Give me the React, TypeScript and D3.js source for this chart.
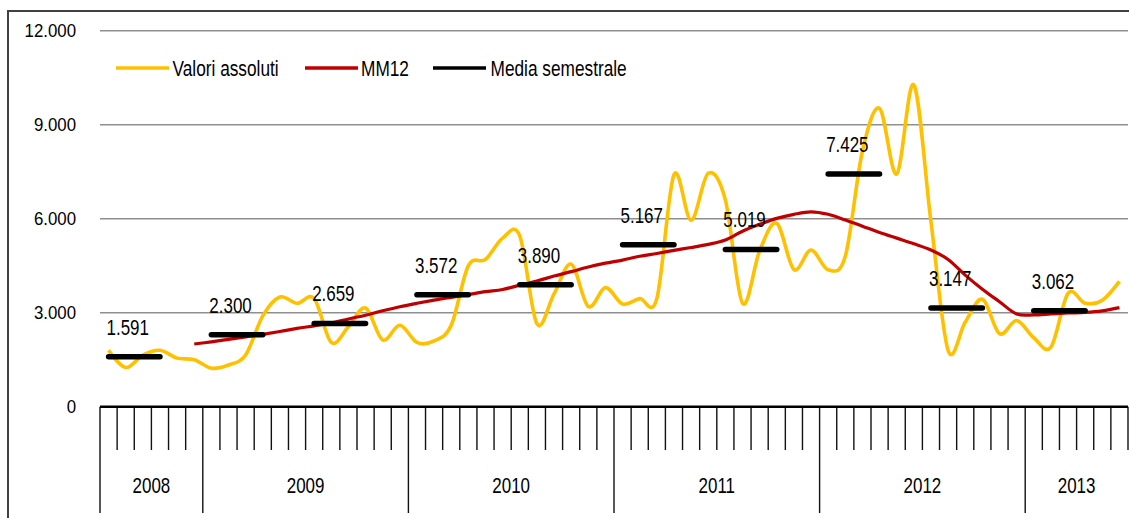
import React from "react";
import * as d3 from "d3";

// ---- data ----
const years = ["2008", "2009", "2010", "2011", "2012", "2013"];
const monthsPerYear = [6, 12, 12, 12, 12, 6];

const valoriAssoluti = [
  1800, 1250, 1650, 1800, 1550, 1500,
  1230, 1330, 1650, 2900, 3500, 3300,
  3450, 2050, 2550, 3150, 2130, 2600,
  2050, 2100, 2600, 4500, 4700, 5380,
  5450, 2650, 3600, 4550, 3200, 3800,
  3280, 3450, 3450, 7400, 5950, 7450,
  6600, 3300, 4980, 5850, 4380, 5000,
  4370, 4800, 8160, 9520, 7430, 10270,
  5900, 1800, 2700, 3430, 2330, 2750,
  2200, 1900, 3620, 3300, 3400, 4000,
];

const mm12: (number | null)[] = [
  null, null, null, null, null, 2000,
  2070, 2150, 2230, 2310, 2400, 2500,
  2580, 2670, 2800, 2920, 3060, 3190,
  3300, 3400, 3490, 3580, 3670, 3740,
  3880, 4010, 4170, 4310, 4460, 4580,
  4680, 4800, 4890, 4990, 5080, 5180,
  5320, 5600, 5820, 6010, 6140, 6220,
  6140, 5960, 5760, 5560, 5380, 5200,
  5000, 4700, 4200, 3750, 3350, 2960,
  2930, 2960, 2990, 3010, 3060, 3160,
];

const mediaSemestrale = [1591, 2300, 2659, 3572, 3890, 5167, 5019, 7425, 3147, 3062];

const yTicks = [0, 3000, 6000, 9000, 12000];

const legendItems = ["Valori assoluti", "MM12", "Media semestrale"];

// ---- layout ----
const W = 1129;
const H = 518;
const left = 100;
const right = 1128;
const y0 = 406.7;
const yTopPx = 30.7;
const FONT = "'Liberation Sans', Arial, sans-serif";
const YELLOW = "#FFC000";
const RED = "#C00000";

const itLocale = d3.formatLocale({
  decimal: ",",
  thousands: ".",
  grouping: [3],
  currency: ["€", ""],
});
const fmt = itLocale.format(",.0f");

export default function App() {
  const nMonths = d3.sum(monthsPerYear);
  const idx = d3.range(nMonths);
  const x = d3.scaleBand<number>().domain(idx).range([left, right]).padding(0);
  const cx = (i: number) => (x(i) as number) + x.bandwidth() / 2;
  const y = d3.scaleLinear().domain([0, 12000]).range([y0, yTopPx]);

  const smooth = d3.curveCardinal.tension(0);

  const yellowPath = d3
    .line<number>()
    .x((_, i) => cx(i))
    .y((d) => y(d))
    .curve(smooth)(valoriAssoluti) as string;

  const redPath = d3
    .line<number | null>()
    .defined((d) => d != null)
    .x((_, i) => cx(i))
    .y((d) => y(d as number))
    .curve(smooth)(mm12) as string;

  const yearStarts: number[] = [];
  let acc = 0;
  monthsPerYear.forEach((m) => {
    yearStarts.push(acc);
    acc += m;
  });

  const label = (
    txt: string,
    tx: number,
    ty: number,
    size: number,
    sx: number,
    anchor: "start" | "middle" | "end" = "start",
    key?: string
  ) => (
    <text
      key={key}
      transform={`translate(${tx},${ty}) scale(${sx},1)`}
      fontSize={size}
      fontFamily={FONT}
      textAnchor={anchor}
      fill="#000"
    >
      {txt}
    </text>
  );

  return (
    <svg
      width={W}
      height={H}
      style={{ position: "absolute", left: 0, top: 0, background: "#fff" }}
    >
      <rect x={0} y={0} width={W} height={H} fill="#fff" />
      <rect x={8} y={11} width={1200} height={600} fill="none" stroke="#404040" strokeWidth={2} />

      {yTicks
        .filter((t) => t > 0)
        .map((t) => (
          <line key={t} x1={left} x2={right} y1={y(t)} y2={y(t)} stroke="#8f8f8f" strokeWidth={1.5} />
        ))}

      {yTicks.map((t) => label(fmt(t), 76, y(t) + 6.5, 18.5, 0.91, "end", "yl" + t))}

      {d3.range(nMonths + 1).map((i) => {
        const xx = i < nMonths ? (x(i) as number) : right;
        const isYear = i < nMonths && yearStarts.includes(i);
        return (
          <line
            key={"t" + i}
            x1={xx}
            x2={xx}
            y1={y0}
            y2={isYear ? 513 : 450}
            stroke="#111"
            strokeWidth={1.4}
          />
        );
      })}
      <line x1={left} x2={right} y1={y0} y2={y0} stroke="#000" strokeWidth={2.5} />

      {years.map((yr, k) => {
        const s = yearStarts[k];
        const e = s + monthsPerYear[k];
        const xs = x(s) as number;
        const xe = e < nMonths ? (x(e) as number) : right;
        return label(yr, (xs + xe) / 2, 493, 22, 0.77, "middle", "y" + yr);
      })}

      <path d={yellowPath} fill="none" stroke={YELLOW} strokeWidth={3.6} strokeLinejoin="round" />
      <path d={redPath} fill="none" stroke={RED} strokeWidth={3.2} strokeLinejoin="round" />

      {mediaSemestrale.map((v, s) => {
        const pts = d3.range(6 * s, 6 * s + 4).map((i) => [cx(i), y(v)] as [number, number]);
        const d = d3.line()(pts) as string;
        return (
          <g key={"sem" + s}>
            <path d={d} fill="none" stroke="#000" strokeWidth={5.5} strokeLinecap="round" />
            {label(fmt(v), cx(6 * s) - 2, y(v) - 22, 22, 0.77, "start")}
          </g>
        );
      })}

      <line x1={116} x2={169} y1={68} y2={68} stroke={YELLOW} strokeWidth={3.6} />
      {label(legendItems[0], 172.5, 76, 22, 0.785, "start", "lg0")}
      <line x1={305} x2={358} y1={68} y2={68} stroke={RED} strokeWidth={3.6} />
      {label(legendItems[1], 361, 76, 22, 0.785, "start", "lg1")}
      <line x1={433} x2={486} y1={68} y2={68} stroke="#000" strokeWidth={3.6} />
      {label(legendItems[2], 490.5, 76, 22, 0.785, "start", "lg2")}
    </svg>
  );
}
